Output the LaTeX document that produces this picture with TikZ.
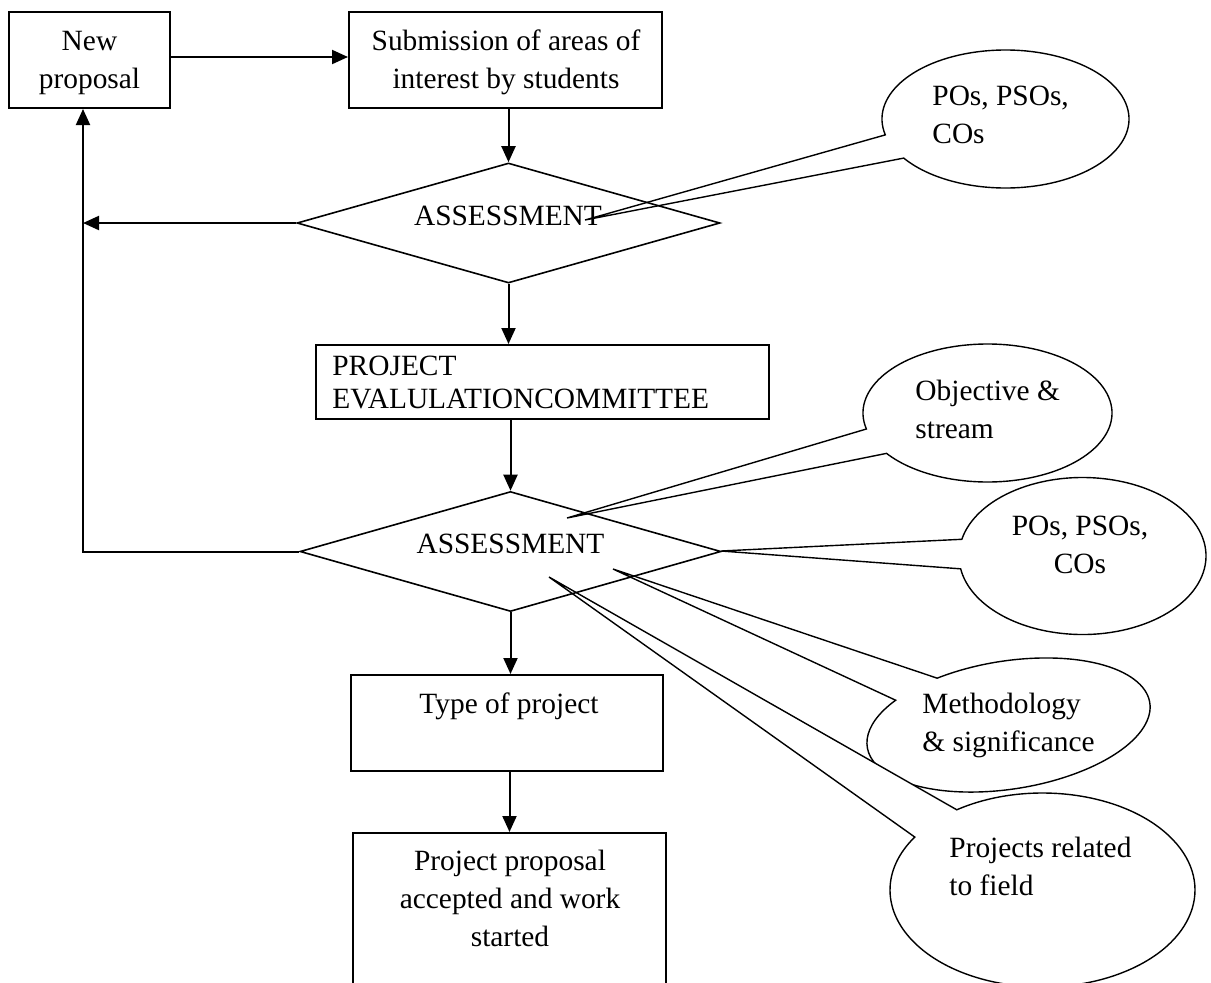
\documentclass[tikz,border=0pt]{standalone}
\usepackage{fontspec}
\setmainfont{Liberation Serif}
\usetikzlibrary{arrows.meta,shapes.geometric,calc}
\newcommand\cblock[1]{\begin{tabular}[t]{@{}c@{}}#1\end{tabular}}
\newcommand\lblock[1]{\begin{tabular}[t]{@{}l@{}}#1\end{tabular}}
\begin{document}
\begin{tikzpicture}[x=0.5pt,y=-0.5pt,
  font=\fontsize{14.7}{19}\selectfont,
  box/.style={draw, line width=1pt, inner sep=0pt},
  txt/.style={inner sep=0pt},
  arr/.style={line width=1pt, -{Triangle[length=8pt,width=7pt]}},
  dia/.style={diamond, draw, line width=0.8pt, inner sep=0pt},
  call/.style={draw, fill=white, line width=0.7pt, line join=miter}]
\useasboundingbox (0,0) rectangle (1211,982);

% callout tips
\coordinate (tip1) at (585,220);
\coordinate (tip2) at (567,518);
\coordinate (tip3) at (721,551);
\coordinate (tip4) at (613,569);
\coordinate (tip5) at (549,577);

% callouts
\draw[call] (tip1) -- ($(1005.5,119)+(166.7:123.5 and 69)$)
  arc[start angle=166.7, end angle=505.5, x radius=123.5, y radius=69] -- cycle;
\draw[call] (tip2) -- ($(987.5,413)+(166.6:124.5 and 69)$)
  arc[start angle=166.6, end angle=504.2, x radius=124.5, y radius=69] -- cycle;
\draw[call] (tip3) -- ($(1082.5,556)+(192.3:123.5 and 78.5)$)
  arc[start angle=192.3, end angle=530.6, x radius=123.5, y radius=78.5] -- cycle;
\begin{scope}[shift={(1008.5,725)}, rotate=9]
\draw[call] (tip4) -- (243.8:143 and 64)
  arc[start angle=243.8, end angle=581.2, x radius=143, y radius=64] -- cycle;
\end{scope}
\draw[call] (tip5) -- ($(1042.5,890)+(235.8:152.5 and 97)$)
  arc[start angle=235.8, end angle=573.1, x radius=152.5, y radius=97] -- cycle;

% boxes
\node[box, minimum width=80.5pt, minimum height=48pt] (newp) at (89.5,60) {};
\node[box, minimum width=156.5pt, minimum height=48pt] (subm) at (505.5,60) {};
\node[box, minimum width=226.5pt, minimum height=37pt] (pec) at (542.5,382) {};
\node[box, minimum width=156pt, minimum height=48pt] (type) at (507,723) {};
\node[box, minimum width=156.5pt, minimum height=83.5pt] (final) at (509.5,916.5) {};

% diamonds
\node[dia, minimum width=211.5pt, minimum height=60pt] (d1) at (508.5,223) {};
\node[dia, minimum width=210.5pt, minimum height=60pt] (d2) at (510.5,551.5) {};

% texts
\node[txt, anchor=base] (tnewp) at (89.5,50) {\cblock{New\\proposal}};
\node[txt, anchor=base] (tsubm) at (506,50) {\cblock{Submission of areas of\\interest by students}};
\node[txt, anchor=base] (td1) at (508,225) {ASSESSMENT};
\node[txt, anchor=base west] (tpec) at (332,375) {\lblock{PROJECT\\[-2.5pt]EVALULATIONCOMMITTEE}};
\node[txt, anchor=base] (td2) at (510.5,553) {ASSESSMENT};
\node[txt, anchor=base] (ttype) at (509,713) {Type of project};
\node[txt, anchor=base] (tfinal) at (510,870) {\cblock{Project proposal\\accepted and work\\started}};
\node[txt, anchor=base west] (tc1) at (932,105) {\lblock{POs, PSOs,\\COs}};
\node[txt, anchor=base west] (tc2) at (915,400) {\lblock{Objective \&\\stream}};
\node[txt, anchor=base] (tc3) at (1080,535) {\cblock{POs, PSOs,\\COs}};
\node[txt, anchor=base west] (tc4) at (922,713) {\lblock{Methodology\\\& significance}};
\node[txt, anchor=base west] (tc5) at (949,857) {\lblock{Projects related\\to field}};

% connectors
\coordinate (loop) at (83,549);
\draw[arr] ([yshift=1.5pt]newp.east) -- ([yshift=1.5pt]subm.west);
\draw[arr] (subm.south -| d1.north) -- (d1.north);
\draw[arr] (d1.west) -- (d1.west -| loop);
\draw[arr] (d2.west) -- (d2.west -| loop) -- (loop |- newp.south);
\draw[arr] (d1.south) -- (d1.south |- pec.north);
\draw[arr] (pec.south -| d2.north) -- (d2.north);
\draw[arr] (d2.south) -- (d2.south |- type.north);
\draw[arr] (type.south -| final.north) -- (final.north);
\end{tikzpicture}
\end{document}
